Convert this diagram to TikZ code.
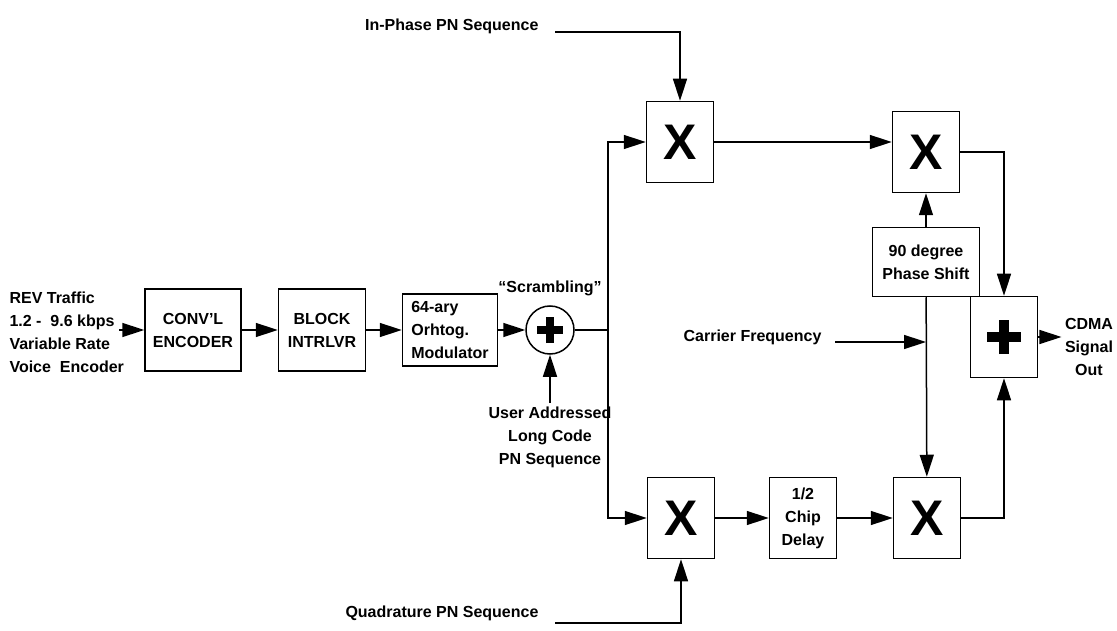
\documentclass[tikz,border=0pt]{standalone}
\usepackage{fontspec}
\setmainfont{Liberation Sans}
\usetikzlibrary{arrows.meta}

\begin{document}
\begin{tikzpicture}[
  x=1pt, y=-1pt,
  >={Triangle[length=22pt,width=14pt]},
  every node/.style={font=\bfseries\fontsize{16}{23}\selectfont},
  block/.style={draw, line width=1.5pt, align=center, inner sep=2pt},
  mult/.style={block, minimum width=67pt, minimum height=81pt,
              font=\bfseries\fontsize{50}{50}\selectfont},
  adder/.style={block, minimum width=67pt, minimum height=81pt,
              path picture={\draw[line width=10pt]
                (path picture bounding box.center) +(-17pt,0) -- +(17pt,0)
                (path picture bounding box.center) +(0,-17pt) -- +(0,17pt);}},
  xorc/.style={circle, draw, line width=1.5pt, minimum size=48pt, inner sep=0pt,
              path picture={\draw[line width=8pt]
                (path picture bounding box.center) +(-13pt,0) -- +(13pt,0)
                (path picture bounding box.center) +(0,-13pt) -- +(0,13pt);}},
  lbl/.style={align=center},
  arr/.style={->, line width=1.5pt},
  wire/.style={line width=1.5pt},
]

\useasboundingbox (0,0) rectangle (1117,631);

\node[lbl, align=left, anchor=west] (src) at (6,332) {REV Traffic\\1.2 -\ \ 9.6 kbps\\Variable Rate\\Voice\ \ Encoder};
\coordinate (srcout) at (119,330);

\node[block, minimum width=96pt, minimum height=82pt] (conv) at (193,330) {CONV'L\\ENCODER};
\node[block, minimum width=87pt, minimum height=82pt] (intl) at (322,330) {BLOCK\\INTRLVR};
\node[block, align=left, minimum width=95pt, minimum height=72pt] (orth) at (450,330) {64-ary\\Orhtog.\\Modulator};

\node[xorc] (scr) at (550,330) {};
\node[lbl] (scrlbl) at (550,288) {“Scrambling”};
\node[lbl] (lcode) at (550,437) {User Addressed\\Long Code\\PN Sequence};
\coordinate (split) at (608,330);

\node[lbl, anchor=base east] (inpn) at (542,31) {In-Phase PN Sequence};
\node[lbl, anchor=base east] (qpn) at (542,617) {Quadrature PN Sequence};

\node[mult] (mulI) at (680,142) {X};
\node[mult] (mulQ) at (681,518) {X};
\node[block, minimum width=67pt, minimum height=81pt] (delay) at (803,518) {1/2\\Chip\\Delay};

\node[mult] (mulI2) at (926,152) {X};
\node[mult] (mulQ2) at (927,518) {X};
\node[block, minimum width=107pt, minimum height=69pt] (phase) at (926,262) {90 degree\\Phase Shift};
\node[lbl, anchor=base east] (carrier) at (825,341) {Carrier Frequency};

\node[adder] (sum) at (1004,337) {};
\node[lbl] (out) at (1089,347) {CDMA\\Signal\\Out};

\draw[arr] (srcout) -- (conv);
\draw[arr] (conv) -- (intl);
\draw[arr] (intl) -- (orth);
\draw[arr] (orth) -- (scr);
\draw[arr] (lcode) -- (scr);

\draw[wire] (scr) -- (split);
\draw[arr] (split) |- (mulI);
\draw[arr] (split) |- (mulQ);
\draw[arr] ([xshift=13pt,yshift=-1pt]inpn.base east) -| (mulI);
\draw[arr] ([xshift=13pt,yshift=-6pt]qpn.base east) -| (mulQ);

\draw[arr] (mulI) -- (mulI -| mulI2.west);
\draw[arr] (mulQ) -- (delay);
\draw[arr] (delay) -- (mulQ2);

\draw[arr] (phase) -- (mulI2);
\draw[arr] (phase) -- (mulQ2);
\draw[arr] ([xshift=10pt,yshift=-1pt]carrier.base east) -- ([yshift=-1pt]carrier.base east -| phase.south);

\draw[arr] (mulI2) -| (sum);
\draw[arr] (mulQ2) -| (sum);
\draw[arr] (sum) -- (sum -| out.west);

\end{tikzpicture}
\end{document}
